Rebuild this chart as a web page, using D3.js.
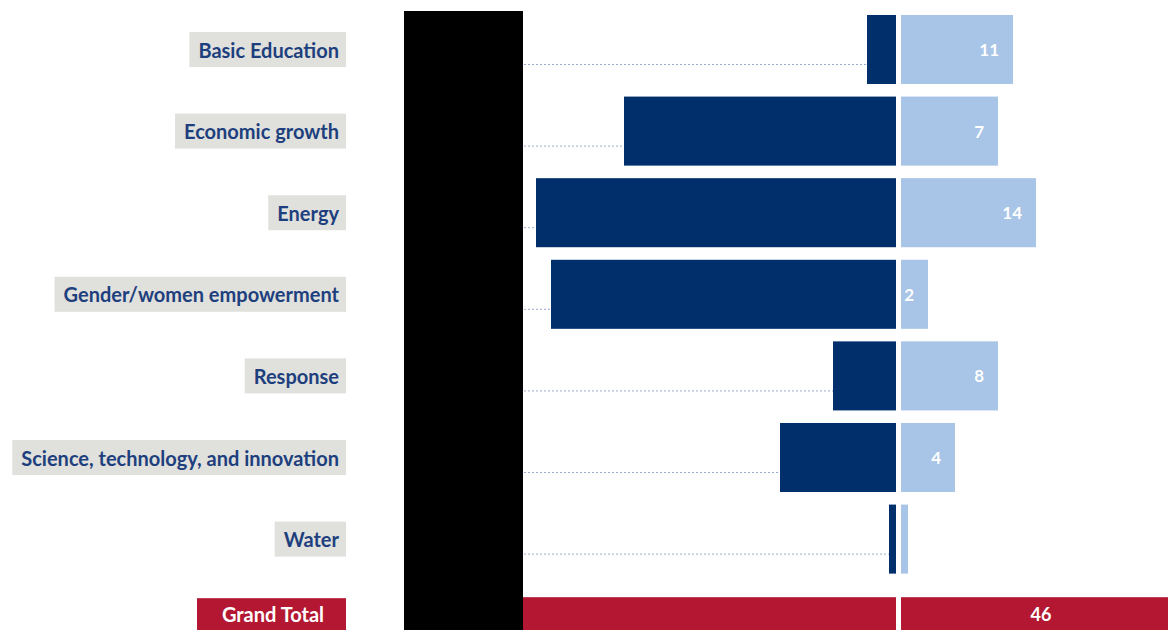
<!DOCTYPE html>
<html><head><meta charset="utf-8">
<script src="https://cdn.jsdelivr.net/npm/d3@7"></script>
<style>html,body{margin:0;padding:0;background:#fff;}svg{display:block;}</style>
</head><body><svg id="chart" width="1168" height="630"></svg>
<script>
// ---- data ----
const categories = ["Basic Education","Economic growth","Energy","Gender/women empowerment","Response","Science, technology, and innovation","Water"];
const leftValues  = [2.9, 27.2, 36.0, 34.5, 6.3, 11.6, 0.7];   // dark blue, extends left
const rightValues = [11.2, 9.7, 13.5, 2.7, 9.7, 5.4, 0.7];     // light blue, extends right
const countLabels = ["11","7","14","2","8","4",""];
const totalLabel = "Grand Total";
const totalCount = "46";

// ---- layout ----
const W = 1168, H = 630;
const svg = d3.select("#chart");
const font = "Lato, 'Open Sans', sans-serif";
const darkBlue = "#002f6c", lightBlue = "#a8c4e6", red = "#b31732", labelBlue = "#1e3f7e", grey = "#e0e0dc";

const rows = categories.concat([totalLabel]);
const y = d3.scaleBand().domain(rows).range([8.7, 661.5]).paddingInner(0.154).paddingOuter(0.077);
const xL = d3.scaleLinear().domain([0, 40]).range([896, 496]);
const xR = d3.scaleLinear().domain([0, 40]).range([901, 1301]);

const data = categories.map((c, i) => ({c, l: leftValues[i], r: rightValues[i], n: countLabels[i]}));

svg.append("defs").append("clipPath").attr("id","plotclip")
  .append("rect").attr("x",404).attr("y",0).attr("width",W-404).attr("height",H);
const plot = svg.append("g").attr("clip-path","url(#plotclip)");

// dotted leader lines
plot.selectAll("line.lead").data(data).join("line")
  .attr("x1", 404).attr("x2", d => xL(d.l))
  .attr("y1", d => y(d.c) + y.bandwidth()/2 + 15).attr("y2", d => y(d.c) + y.bandwidth()/2 + 15)
  .attr("stroke", "#9aaccb").attr("stroke-width", 1).attr("stroke-dasharray", "2,2");

// dark bars
plot.selectAll("rect.dark").data(data).join("rect")
  .attr("x", d => xL(d.l)).attr("width", d => xL(0) - xL(d.l))
  .attr("y", d => y(d.c)).attr("height", y.bandwidth()).attr("fill", darkBlue);

// light bars
plot.selectAll("rect.light").data(data).join("rect")
  .attr("x", xR(0)).attr("width", d => xR(d.r) - xR(0))
  .attr("y", d => y(d.c)).attr("height", y.bandwidth()).attr("fill", lightBlue);

// count labels
plot.selectAll("text.cnt").data(data).join("text")
  .attr("x", d => xR(d.r) - 14).attr("y", d => y(d.c) + y.bandwidth()/2)
  .attr("text-anchor","end").attr("dominant-baseline","central")
  .attr("font-family", font).attr("font-weight", 700).attr("font-size", 17)
  .attr("fill", "#fff").text(d => d.n);

// grand total bars
const totL = d3.sum(leftValues), totR = d3.sum(rightValues);
const ty = y(totalLabel) + 11;
plot.append("rect").attr("x", xL(totL)).attr("width", xL(0) - xL(totL))
  .attr("y", ty).attr("height", 60).attr("fill", red);
plot.append("rect").attr("x", xR(0)).attr("width", xR(totR) - xR(0))
  .attr("y", ty).attr("height", 60).attr("fill", red);
plot.append("text").attr("x", 1041).attr("y", ty + 17)
  .attr("text-anchor","middle").attr("dominant-baseline","central")
  .attr("font-family", font).attr("font-weight", 700).attr("font-size", 18)
  .attr("fill","#fff").text(totalCount);

// category label boxes
const lab = svg.append("g");
data.forEach(d => {
  const cy = y(d.c) + y.bandwidth()/2;
  const g = lab.append("g");
  const t = g.append("text").attr("x", 339).attr("y", cy)
    .attr("text-anchor","end").attr("dominant-baseline","central")
    .attr("font-family", font).attr("font-weight", 700).attr("font-size", 20)
    .attr("fill", labelBlue).text(d.c);
  const w = t.node().getComputedTextLength();
  g.insert("rect","text").attr("x", 339 - w - 9).attr("y", cy - 17.5)
    .attr("width", w + 16).attr("height", 35).attr("fill", grey);
});
{
  const g = lab.append("g");
  g.append("rect").attr("x", 197).attr("y", ty + 1).attr("width", 149).attr("height", 40).attr("fill", red);
  g.append("text").attr("x", 273).attr("y", ty + 17)
    .attr("text-anchor","middle").attr("dominant-baseline","central")
    .attr("font-family", font).attr("font-weight", 700).attr("font-size", 20)
    .attr("fill","#fff").text(totalLabel);
}

// redaction block
svg.append("rect").attr("x", 404).attr("y", 11).attr("width", 119).attr("height", H - 11).attr("fill", "#000");
</script></body></html>
